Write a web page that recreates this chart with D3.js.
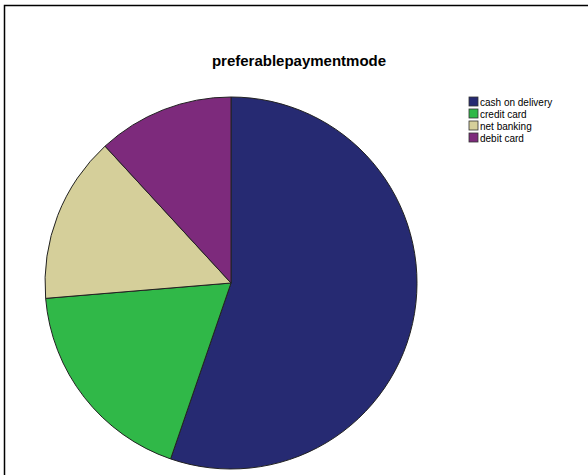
<!DOCTYPE html>
<html><head><meta charset="utf-8">
<script src="https://cdn.jsdelivr.net/npm/d3@7"></script>
<style>body{margin:0;background:#fff}</style>
</head><body>
<svg id="c" width="588" height="475"></svg>
<script>
const categories = ["cash on delivery","credit card","net banking","debit card"];
const values = [42,14,11,9];
const colors = ["#262a72","#30b848","#d5cf9a","#7d2a7c"];
const title = "preferablepaymentmode";

const svg = d3.select("#c");
svg.append("path").attr("d","M4.5,475 V5.5 H588").attr("fill","none").attr("stroke","#000").attr("stroke-width",1.5);

svg.append("text").attr("x",299).attr("y",66).attr("text-anchor","middle")
  .attr("font-family","Liberation Sans, Arial, sans-serif").attr("font-weight","bold").attr("font-size",15)
  .text(title);

const pie = d3.pie().sort(null).value(d=>d);
const arc = d3.arc().innerRadius(0).outerRadius(186);
const g = svg.append("g").attr("transform","translate(231,283)");
g.selectAll("path").data(pie(values)).join("path")
  .attr("d",arc).attr("fill",(d,i)=>colors[i])
  .attr("stroke","#222").attr("stroke-width",1);

const color = d3.scaleOrdinal().domain(categories).range(colors);
const y = d3.scalePoint().domain(categories).range([97,133]);
const lg = svg.append("g");
const rows = lg.selectAll("g").data(categories).join("g").attr("transform",d=>`translate(469,${y(d)})`);
rows.append("rect").attr("width",9).attr("height",9).attr("fill",d=>color(d)).attr("stroke","#333").attr("stroke-width",0.8);
rows.append("text").attr("x",11).attr("y",8.5).attr("font-family","Liberation Sans, Arial, sans-serif").attr("font-size",10).attr("fill","#000").text(d=>d);
</script>
</body></html>
